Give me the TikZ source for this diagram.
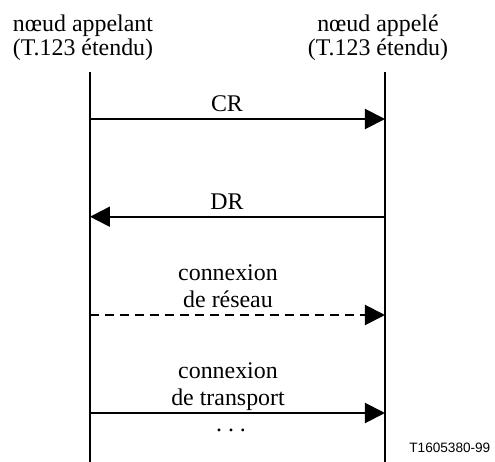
\documentclass[tikz,border=0pt]{standalone}
\usepackage{fontspec}
\setmainfont{Liberation Serif}
\newfontfamily\labelsans{Liberation Sans}
\usetikzlibrary{arrows.meta}
\begin{document}
\begin{tikzpicture}[x=0.5pt,y=-0.5pt,
  txt/.style={inner sep=0pt,anchor=base,font=\fontsize{11.95}{12}\selectfont},
  lifeline/.style={line width=1pt},
  msg/.style={line width=1pt,-{Triangle[length=10pt,width=10pt]}},
  msgdash/.style={msg,dash pattern=on 4.5pt off 3pt}]
\useasboundingbox (0,0) rectangle (495,462);

% headers
\node[txt] (h1a) at (83,31.7) {nœud appelant};
\node[txt] (h1b) at (83,55.7) {(T.123 étendu)};
\node[txt] (h2a) at (378,31.7) {nœud appelé};
\node[txt] (h2b) at (378,55.7) {(T.123 étendu)};

% lifelines
\coordinate (Ltop) at (90,72);
\coordinate (Lbot) at (90,462);
\coordinate (Rtop) at (385,72);
\coordinate (Rbot) at (385,462);
\draw[lifeline] (Ltop) -- (Lbot);
\draw[lifeline] (Rtop) -- (Rbot);

% message anchors on the lifelines
\coordinate (l1) at (90,119);   \coordinate (r1) at (385,119);
\coordinate (l2) at (90,216.7); \coordinate (r2) at (385,216.7);
\coordinate (l3) at (90,315);   \coordinate (r3) at (385,315);
\coordinate (l4) at (90,413);   \coordinate (r4) at (385,413);

\draw[msg] (l1) -- (r1);
\node[txt] (cr) at (227,111.7) {CR};

\draw[msg] (r2) -- (l2);
\node[txt] (dr) at (227,209) {DR};

\draw[msgdash] (l3) -- (r3);
\node[txt] (c3a) at (228,280) {connexion};
\node[txt] (c3b) at (228,307) {de réseau};

\draw[msg] (l4) -- (r4);
\node[txt] (c4a) at (228,378) {connexion};
\node[txt] (c4b) at (228,405) {de transport};
\node[txt] (dots) at (231,431) {.\ .\ .};

\node[inner sep=0pt,anchor=base west,font=\labelsans\fontsize{6.8}{8}\selectfont] (ref) at (409,452) {T1605380-99};
\end{tikzpicture}
\end{document}
